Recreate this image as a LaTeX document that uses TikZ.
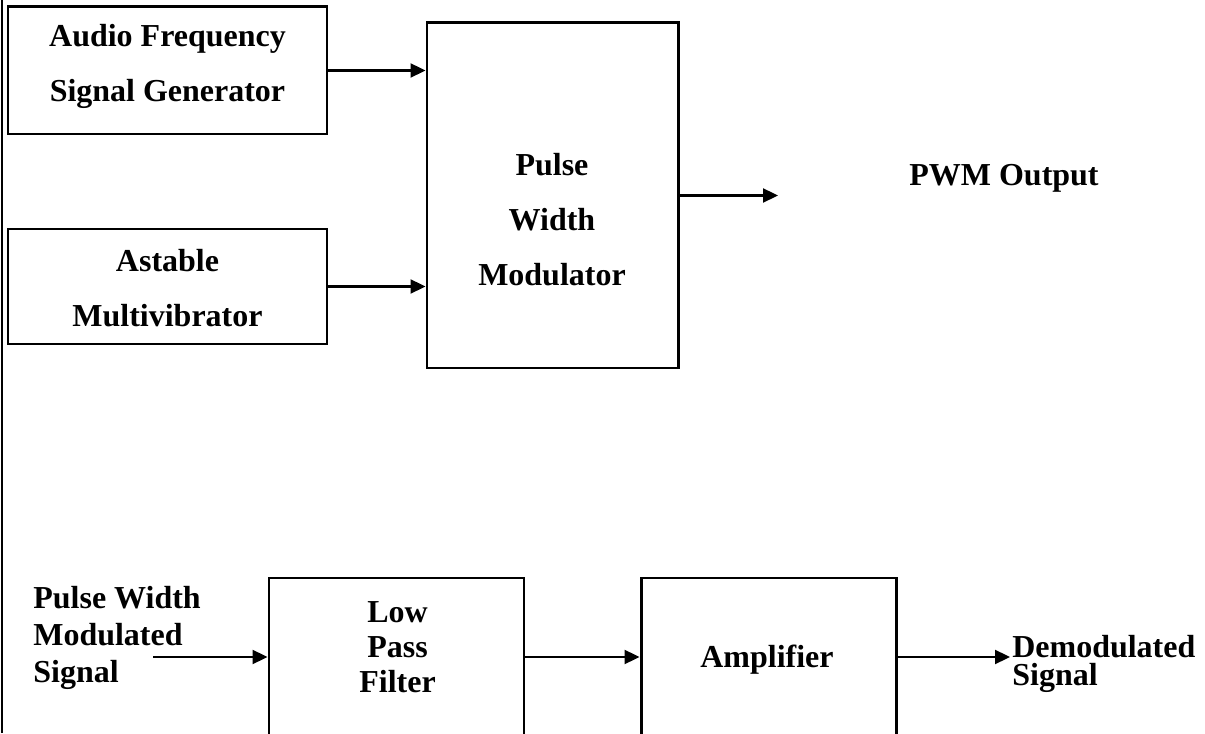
\documentclass[tikz,border=0pt]{standalone}
\usepackage{fontspec}
\setmainfont{Liberation Serif}
\usetikzlibrary{arrows.meta,calc}

\tikzset{
  blockbox/.style={draw,line width=1.7pt,minimum width=#1,inner sep=0pt},
  blocktext/.style={align=center,inner sep=0pt,anchor=base},
  sidetext/.style={align=left,inner sep=0pt,anchor=base west},
  sig/.style={-{Triangle[length=0.3cm,width=0.28cm]},line width=1.3pt}
}

\begin{document}
\begin{tikzpicture}[font=\bfseries\fontsize{18.2pt}{31.5pt}\selectfont]
  \useasboundingbox (0,0) rectangle (24.1,14.66);
  \clip (0,0) rectangle (24.1,14.66);
  % --- page rule on the left ---
  \draw[line width=0.6pt] (0.04,0) -- (0.04,14.66);
  % --- modulator: blocks ---
  \node[blockbox=6.38cm,minimum height=2.54cm] (afsg)    at (3.35,13.25) {};
  \node[blockbox=6.38cm,minimum height=2.30cm] (astable) at (3.35,8.93)  {};
  \node[blockbox=5.02cm,minimum height=6.90cm] (pwm)     at (11.05,10.75) {};
  % base = baseline of the last line
  \node[blocktext] (afsgtext)    at (3.35,12.62) {Audio Frequency\\Signal Generator};
  \node[blocktext] (astabletext) at (3.35,8.12)  {Astable\\Multivibrator};
  \node[blocktext] (pwmtext)     at (11.04,8.94) {Pulse\\Width\\Modulator};
  \node[blocktext] (pwmout)      at (20.08,10.94) {PWM Output};
  \coordinate (pwmend) at (15.56,10.75);
  \draw[sig] (afsg.east)    -- (afsg.east -| pwm.west);
  \draw[sig] (astable.east) -- (astable.east -| pwm.west);
  \draw[sig] (pwm.east)     -- (pwmend);
  % --- demodulator: blocks (run off the bottom) ---
  \node[blockbox=5.10cm,minimum height=4.1cm] (lpf) at (7.93,1.05)  {};
  \node[blockbox=5.10cm,minimum height=4.1cm] (amp) at (15.37,1.05) {};
  \node[blocktext,font=\bfseries\fontsize{18.2pt}{20.2pt}\selectfont] (lpftext) at (7.95,0.80) {Low\\Pass\\Filter};
  \node[blocktext] (amptext) at (15.34,1.32) {Amplifier};
  \node[sidetext,font=\bfseries\fontsize{18.2pt}{20.8pt}\selectfont] (pwmsig) at (0.66,1.02) {Pulse Width\\Modulated\\Signal};
  \node[sidetext,font=\bfseries\fontsize{18.2pt}{15.8pt}\selectfont] (demod) at (20.24,0.96) {Demodulated\\Signal};
  \coordinate (pwmin)    at (3.06,1.52);
  \coordinate (demodend) at (20.20,1.52);
  \draw[sig] (pwmin) -- (pwmin -| lpf.west);
  \draw[sig] (lpf.east |- pwmin) -- (amp.west |- pwmin);
  \draw[sig] (amp.east |- pwmin) -- (demodend);
\end{tikzpicture}
\end{document}
